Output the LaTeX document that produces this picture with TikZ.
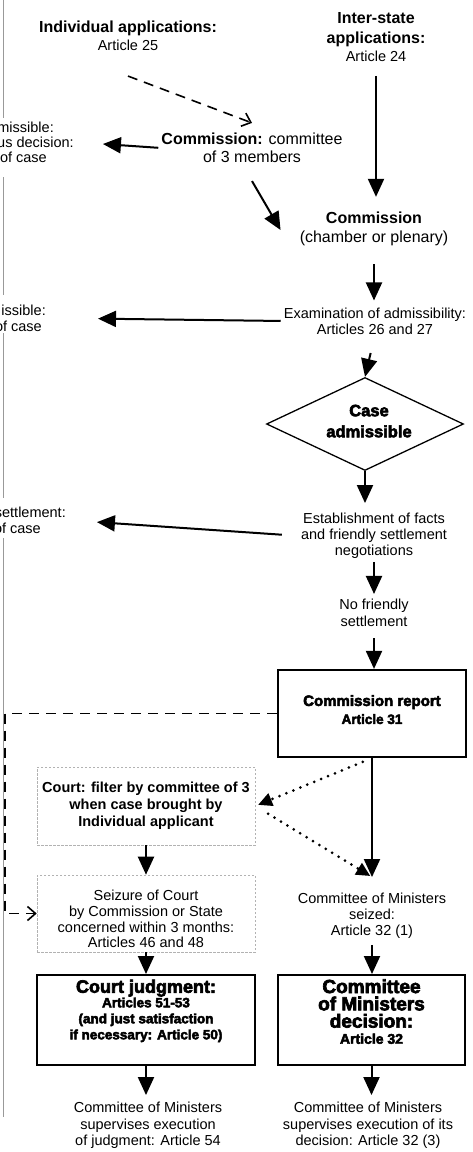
\documentclass[tikz,border=0pt]{standalone}
\usepackage{fontspec}
\setmainfont{Liberation Sans}
\newfontfamily\heavyfam{Liberation Sans}[BoldFeatures={FakeBold=3.5}]
\newcommand\hvy{\heavyfam\bfseries}
\newcommand\fs[2]{\fontsize{#1}{#2}\selectfont\lineskiplimit=-100pt\relax}
\newcommand\hd{\bfseries\fontsize{16}{18}\selectfont}
\usetikzlibrary{arrows.meta,shapes.geometric,calc}

\begin{document}
\begin{tikzpicture}[x=1pt,y=-1pt,
  txt/.style={align=center, inner sep=0pt, font=\fs{14.5}{16.3}},
  arr/.style={line width=2pt, -{Triangle[width=16pt,length=18pt]}},
  dotarr/.style={line width=3pt, dash pattern=on 0pt off 7.5pt, line cap=round,
                 -{Triangle[width=13pt,length=14pt]}},
  dasharr/.style={line width=1.6pt, dash pattern=on 10pt off 7pt,
                  -{Straight Barb[length=8pt,width=14pt,line width=1.6pt]}},
  thickbox/.style={draw, line width=2pt, align=center, inner sep=0pt},
  faintbox/.style={draw=gray!60, line width=0.6pt, dash pattern=on 2.5pt off 1.5pt,
                   align=center, inner sep=0pt},
  edgeline/.style={draw=gray!80, line width=0.8pt}]

\useasboundingbox (0,0) rectangle (472,1152);

% left margin rule
\draw[edgeline] (3,0) -- (3,118);
\draw[edgeline] (3,177) -- (3,295);
\draw[edgeline] (3,333) -- (3,498);
\draw[edgeline] (3,538) -- (3,1117);

% applications
\node[txt, font=\fs{14.5}{18}] (indiv) at (128,36)
  {{\hd Individual applications:}\\Article 25};
\node[txt, font=\fs{14.5}{18}] (inter) at (376,37)
  {{\hd Inter-state}\\[2pt]{\hd applications:}\\Article 24};

% commission stages
\node[txt, font=\fs{16}{18}] (comm3) at (252,148)
  {\textbf{Commission:} committee\\of 3 members};
\node[txt, font=\fs{14.5}{15}, align=right, anchor=east] (rej1) at (74,142)
  {missible:\kern20pt\\us decision:\\of case\kern27pt};
\node[txt, font=\fs{16}{19}] (cham) at (374,229)
  {\textbf{Commission}\\(chamber or plenary)};
\node[txt, font=\fs{14.5}{16}] (exam) at (375,321)
  {Examination of admissibility:\\Articles 26 and 27};
\node[txt, font=\fs{14.5}{16}, align=right, anchor=east] (rej2) at (46,318)
  {issible:\\of case\kern4pt};
\node[diamond, draw, line width=1.3pt, fill=white, minimum width=197pt,
      minimum height=93pt, inner sep=0pt, aspect=2.1, align=center,
      font=\fs{16.5}{21}] (adm) at (365,424)
  {\hvy\kern8pt Case\\\hvy\kern8pt admissible\rule[-6pt]{0pt}{0pt}};
\node[txt, font=\fs{14.5}{16}, align=right, anchor=east] (rej3) at (66,520)
  {settlement:\\of case\kern25pt};
\node[txt, font=\fs{14.5}{16}] (estab) at (374,536)
  {Establishment of facts\\and friendly settlement\\negotiations};
\node[txt, font=\fs{14.5}{17}] (nofr) at (374,613)
  {No friendly\\settlement};
\node[draw, line width=2.2pt, minimum width=188pt, minimum height=87pt,
      align=center, inner sep=0pt, font=\fs{15}{18}] (report) at (372,713.5)
  {\hvy Commission report\\\hvy\fontsize{13.5}{18}\selectfont Article 31\rule[-8pt]{0pt}{0pt}};

% court branch
\node[faintbox, minimum width=218pt, minimum height=78pt,
      font=\fs{14.5}{17}\bfseries] (filter) at (146,806)
  {Court: filter by committee of 3\\when case brought by\\Individual applicant};
\node[faintbox, minimum width=218pt, minimum height=77pt,
      font=\fs{14.5}{15.7}] (seize) at (146,913.5)
  {\rule{0pt}{22pt}Seizure of Court\\by Commission or State\\concerned within 3 months:\\Articles 46 and 48};
\node[thickbox, minimum width=218pt, minimum height=90pt,
      font=\fs{13.5}{16}\hvy] (judg) at (146,1020)
  {{\fontsize{18}{16}\selectfont Court judgment:}\\[-1.5pt]Articles 51-53\\(and just satisfaction\\if necessary: Article 50)\rule[-21pt]{0pt}{0pt}};
\node[txt, font=\fs{14.5}{16.5}] (super1) at (148,1125.5)
  {Committee of Ministers\\supervises execution\\of judgment: Article 54};

% committee of ministers branch
\node[txt, font=\fs{14.5}{16}] (cmseized) at (372,916)
  {Committee of Ministers\\seized:\\Article 32 (1)};
\node[thickbox, minimum width=187pt, minimum height=90pt,
      font=\fs{19}{17.3}\hvy] (cmdec) at (371.5,1020)
  {Committee\\of Ministers\\decision:\\[-1.2pt]{\fontsize{14}{17.3}\selectfont Article 32}\rule[-17pt]{0pt}{0pt}};
\node[txt, font=\fs{14.5}{16.5}] (super2) at (368,1125.5)
  {Committee of Ministers\\supervises execution of its\\decision: Article 32 (3)};

\coordinate (cmin) at ($(cmseized.north)+(0,-16)$);
\coordinate (dcorner) at (5,713.5);

% connectors
\draw[dasharr] ($(indiv.south)+(0,25)$) -- ($(comm3.north)+(0,-10)$);
\draw[arr, shorten <=14pt, shorten >=15pt] (inter.south) -- (inter.south |- cham.north);
\draw[arr, shorten <=3pt, shorten >=29pt] (comm3.west) -- (rej1.east);
\draw[arr] ($(comm3.south)+(0,18)$) -- ($(cham.west)+(-19,1)$);
\draw[arr, shorten <=18pt, shorten >=7pt] (cham.south) -- (cham.south |- exam.north);
\draw[arr, shorten <=3pt, shorten >=52pt] (exam.west) -- (rej2.east);
\draw[arr, shorten <=19pt] (exam.south) -- (adm.north);
\draw[arr, shorten >=10pt] (adm.south) -- (adm.south |- estab.north);
\draw[arr, shorten <=19pt, shorten >=31pt] (estab.west) -- (rej3.east);
\draw[arr, shorten <=3pt, shorten >=5pt] (estab.south) -- (estab.south |- nofr.north);
\draw[arr, shorten <=11pt] (nofr.south) -- (nofr.south |- report.north);
\draw[arr] (report.south) -- (cmin);
\draw[dotarr, shorten <=10pt, shorten >=3pt] (report.south) -- (filter.east);
\draw[dotarr, shorten <=15pt, shorten >=2pt] (filter.east) -- (cmin);
\draw[dasharr] (report.west) -- (report.west -| dcorner) |- (seize.west);
\draw[arr] (filter.south) -- (seize.north);
\draw[arr] (seize.south) -- (judg.north);
\draw[arr, shorten >=7pt] (judg.south) -- (judg.south |- super1.north);
\draw[arr, shorten <=6pt] (cmseized.south) -- (cmseized.south |- cmdec.north);
\draw[arr, shorten >=7pt] (cmdec.south) -- (cmdec.south |- super2.north);
\end{tikzpicture}
\end{document}
